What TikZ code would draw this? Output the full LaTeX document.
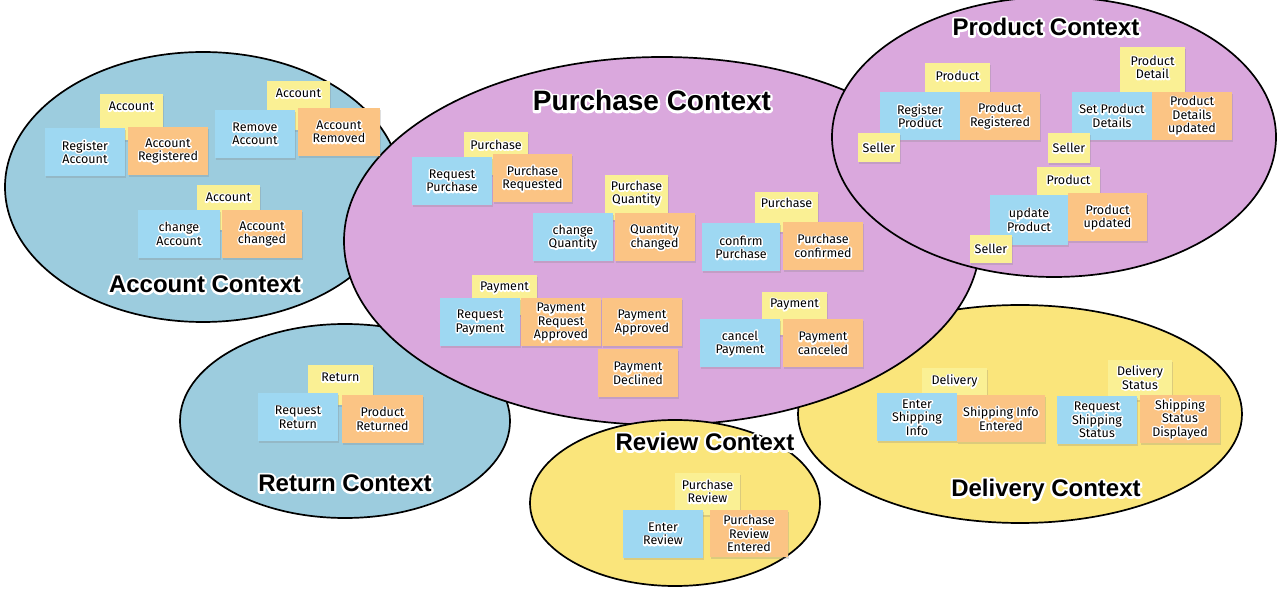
\documentclass[tikz,border=0pt]{standalone}
\usepackage{fontspec}
\setmainfont{Liberation Sans}
\newfontfamily\notefont{Fira Sans}
\usetikzlibrary{shapes.geometric,shadows}
\definecolor{ctxblue}{RGB}{156,204,222}
\definecolor{ctxpurple}{RGB}{218,168,221}
\definecolor{ctxyellow}{RGB}{250,229,123}
\definecolor{nblue}{RGB}{158,216,242}
\definecolor{norange}{RGB}{251,196,132}
\definecolor{nyellow}{RGB}{250,240,148}
% white halo behind text: a white stroked copy under the black text
\newcommand\halotext[2]{\leavevmode\rlap{\special{pdf:literal 2 Tr #1 w 1 j 1 1 1 RG}\textcolor{white}{#2}\special{pdf:literal 0 Tr}}#2}
\newcommand\hl[1]{\halotext{3}{#1}}
\newcommand\ttl[1]{\halotext{4.5}{#1}}
\tikzset{
  ctx/.style={ellipse, draw=black, line width=1.7pt, inner sep=0pt, outer sep=0pt},
  note/.style={rectangle, inner sep=1pt, align=center,
    font=\notefont\fontsize{12.5}{13.5}\selectfont,
    minimum width=80pt, minimum height=48pt,
    drop shadow={shadow xshift=1pt, shadow yshift=-2pt, opacity=0.25}},
  bnote/.style={note, fill=nblue},
  onote/.style={note, fill=norange},
  ynote/.style={note, fill=nyellow},
  ytext/.style={anchor=north, yshift=-8pt, inner sep=0pt, align=center,
    font=\notefont\fontsize{12.5}{13.5}\selectfont},
  title/.style={font=\bfseries\fontsize{24}{28}\selectfont, inner sep=0pt, anchor=base},
}
\begin{document}
\begin{tikzpicture}[x=1pt,y=-1pt]
\useasboundingbox (0,0) rectangle (1280,593);
\fill[white] (0,0) rectangle (1280,593);
% contexts
\node[ctx, fill=ctxblue, minimum width=396pt, minimum height=270pt] (account) at (203,187) {};
\node[ctx, fill=ctxblue, minimum width=330pt, minimum height=194pt] (return) at (345,421) {};
\node[ctx, fill=ctxyellow, minimum width=444pt, minimum height=218pt] (delivery) at (1020,414) {};
\node[ctx, fill=ctxpurple, minimum width=636pt, minimum height=368pt] (purchase) at (662,241) {};
\node[ctx, fill=ctxpurple, minimum width=444pt, minimum height=280pt] (product) at (1054,137) {};
\node[ctx, fill=ctxyellow, minimum width=290pt, minimum height=166pt] (review) at (675,503) {};
% titles
\node[title] (tAccount) at (205,292.6) {\ttl{Account Context}};
\node[title, font=\bfseries\fontsize{28}{32}\selectfont] (tPurchase) at (652,111) {\ttl{Purchase Context}};
\node[title] (tProduct) at (1046,35.6) {\ttl{Product Context}};
\node[title] (tReview) at (705,450.6) {\ttl{Review Context}};
\node[title] (tReturn) at (345,491.6) {\ttl{Return Context}};
\node[title] (tDelivery) at (1046,496.6) {\ttl{Delivery Context}};
% Account context
\node[ynote, minimum width=63pt, minimum height=46pt, label={[ytext]north:\hl{Account}}] (yAcc1) at (131.5,117) {};
\node[bnote] (regAcc) at (85,152) {\hl{Register}\\\hl{Account}};
\node[onote] (accReg) at (168,151) {\hl{Account}\\\hl{Registered}};
\node[ynote, minimum width=63pt, minimum height=49pt, label={[ytext]north:\hl{Account}}] (yAcc2) at (298.5,105.5) {};
\node[bnote] (remAcc) at (255,134) {\hl{Remove}\\\hl{Account}};
\node[onote, minimum width=82pt] (accRem) at (339,132) {\hl{Account}\\\hl{Removed}};
\node[ynote, minimum width=63pt, minimum height=45pt, label={[ytext]north:\hl{Account}}] (yAcc3) at (228.5,207.5) {};
\node[bnote, minimum width=82pt] (chAcc) at (179,234) {\hl{change}\\\hl{Account}};
\node[onote] (accCh) at (262,234) {\hl{Account}\\\hl{changed}};
% Purchase context
\node[ynote, minimum width=64pt, minimum height=43pt, label={[ytext]north:\hl{Purchase}}] (yPur1) at (496,153.5) {};
\node[bnote] (reqPur) at (452,181) {\hl{Request}\\\hl{Purchase}};
\node[onote, minimum width=79pt] (purReq) at (532.5,178.5) {\hl{Purchase}\\\hl{Requested}};
\node[ynote, minimum width=63pt, minimum height=45pt, label={[ytext, yshift=2pt]north:\hl{Purchase}\\\hl{Quantity}}] (yPurQ) at (636.5,197.5) {};
\node[bnote] (chQ) at (573,237.5) {\hl{change}\\\hl{Quantity}};
\node[onote] (qCh) at (654.5,237) {\hl{Quantity}\\\hl{changed}};
\node[ynote, minimum width=65pt, minimum height=40pt, label={[ytext, yshift=1pt]north:\hl{Payment}}] (yPay1) at (504.5,295) {};
\node[bnote] (reqPay) at (480,322.5) {\hl{Request}\\\hl{Payment}};
\node[onote] (payReqApp) at (561,322.5) {\hl{Payment}\\\hl{Request}\\\hl{Approved}};
\node[onote] (payApp) at (642,322.5) {\hl{Payment}\\\hl{Approved}};
\node[onote] (payDec) at (638,373.5) {\hl{Payment}\\\hl{Declined}};
\node[ynote, minimum width=63pt, minimum height=40pt, label={[ytext, yshift=2pt]north:\hl{Purchase}}] (yPur2) at (786.5,212) {};
\node[bnote, minimum width=78pt] (confPur) at (741,247.5) {\hl{confirm}\\\hl{Purchase}};
\node[onote] (purConf) at (823,246) {\hl{Purchase}\\\hl{confirmed}};
\node[ynote, minimum width=65pt, minimum height=43pt, label={[ytext, yshift=1pt]north:\hl{Payment}}] (yPay2) at (794.5,313.5) {};
\node[bnote] (canPay) at (740,343.5) {\hl{cancel}\\\hl{Payment}};
\node[onote] (payCan) at (823,343.5) {\hl{Payment}\\\hl{canceled}};
% Product context
\node[ynote, minimum width=65pt, minimum height=42pt, label={[ytext]north:\hl{Product}}] (yProd1) at (957.5,84) {};
\node[bnote] (regProd) at (920,116) {\hl{Register}\\\hl{Product}};
\node[onote] (prodReg) at (1000,116) {\hl{Product}\\\hl{Registered}};
\node[ynote, minimum width=42pt, minimum height=29pt, inner sep=0pt] (seller1) at (879,147.5) {\hl{Seller}};
\node[ynote, minimum width=65pt, minimum height=50pt, label={[ytext, yshift=-1pt]north:\hl{Product}\\\hl{Detail}}] (yProdD) at (1152.5,72) {};
\node[bnote] (setPD) at (1112,116) {\hl{Set Product}\\\hl{Details}};
\node[onote] (pdUpd) at (1192,116) {\hl{Product}\\\hl{Details}\\\hl{updated}};
\node[ynote, minimum width=42pt, minimum height=30pt, inner sep=0pt] (seller2) at (1069,148) {\hl{Seller}};
\node[ynote, minimum width=63pt, minimum height=33pt, label={[ytext]north:\hl{Product}}] (yProd3) at (1068.5,183.5) {};
\node[bnote, minimum width=78pt, minimum height=50pt] (updProd) at (1029,220) {\hl{update}\\\hl{Product}};
\node[onote, minimum width=79pt] (prodUpd) at (1107.5,217.5) {\hl{Product}\\\hl{updated}};
\node[ynote, minimum width=42pt, minimum height=28pt, inner sep=0pt] (seller3) at (991,249) {\hl{Seller}};
% Return context
\node[ynote, minimum width=65pt, minimum height=40pt, label={[ytext]north:\hl{Return}}] (yRet) at (340.5,385) {};
\node[bnote] (reqRet) at (298,417.5) {\hl{Request}\\\hl{Return}};
\node[onote, minimum width=81pt] (prodRet) at (382.5,419) {\hl{Product}\\\hl{Returned}};
% Review context
\node[ynote, minimum width=65pt, minimum height=42pt, label={[ytext, yshift=1pt]north:\hl{Purchase}\\\hl{Review}}] (yRev) at (707.5,494) {};
\node[bnote] (entRev) at (663,534) {\hl{Enter}\\\hl{Review}};
\node[onote, minimum width=78pt, minimum height=47pt] (purRevEnt) at (749,533.5) {\hl{Purchase}\\\hl{Review}\\\hl{Entered}};
% Delivery context
\node[ynote, minimum width=65pt, minimum height=32pt, label={[ytext, yshift=1pt]north:\hl{Delivery}}] (yDel) at (954.5,384) {};
\node[bnote] (entShip) at (917,417.5) {\hl{Enter}\\\hl{Shipping}\\\hl{Info}};
\node[onote, minimum width=88pt, minimum height=47pt] (shipEnt) at (1001,418.5) {\hl{Shipping Info}\\\hl{Entered}};
\node[ynote, minimum width=64pt, minimum height=40pt, label={[ytext, yshift=2pt]north:\hl{Delivery}\\\hl{Status}}] (yDelS) at (1140,380) {};
\node[bnote] (reqShip) at (1097,420) {\hl{Request}\\\hl{Shipping}\\\hl{Status}};
\node[onote] (shipDisp) at (1180,419) {\hl{Shipping}\\\hl{Status}\\\hl{Displayed}};
\end{tikzpicture}
\end{document}
